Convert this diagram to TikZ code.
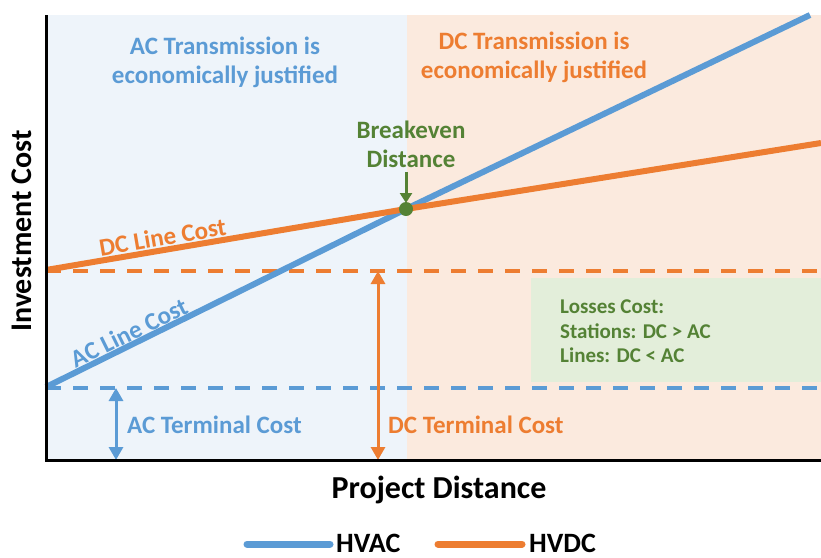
\documentclass[tikz,border=0pt]{standalone}
\usepackage{fontspec}
\setmainfont{Carlito}
\usetikzlibrary{arrows.meta}
\definecolor{acblue}{HTML}{5B9BD5}
\definecolor{dcorange}{HTML}{ED7D31}
\definecolor{bgreen}{HTML}{548235}
\definecolor{bgblue}{HTML}{EEF4FA}
\definecolor{bgorange}{HTML}{FBEADE}
\definecolor{bggreen}{HTML}{E3EEDA}
\tikzset{
  mainline/.style={line width=6pt},
  dashline/.style={line width=4pt, dash pattern=on 15pt off 12pt},
  dimarrow/.style={line width=3pt, {Triangle[width=14pt,length=13pt]}-{Triangle[width=14pt,length=13pt]}},
  lbl/.style={font=\bfseries\fontsize{25}{29}\selectfont, inner sep=0pt},
  ttl/.style={font=\bfseries\fontsize{25}{29}\selectfont, align=center, inner sep=0pt},
  axlbl/.style={font=\bfseries\fontsize{30}{34}\selectfont, text=black, inner sep=0pt},
  leglbl/.style={font=\bfseries\fontsize{28}{32}\selectfont, text=black, inner sep=0pt, anchor=base west},
}
\begin{document}
\begin{tikzpicture}[x=1pt,y=-1pt]
\useasboundingbox (0,0) rectangle (821,557);
% backgrounds
\fill[bgblue] (46,15) rectangle (407,460);
\fill[bgorange] (407,15) rectangle (821,460);
\fill[bggreen] (531,278) rectangle (821,382);
% coordinates
\coordinate (acstart) at (46,387);
\coordinate (dcstart) at (46,270);
\coordinate (be) at (406,209);
\coordinate (acend) at (810,15);
\coordinate (dcend) at (821,143);
\coordinate (dcdashL) at (46,271);
\coordinate (dcdashR) at (821,271);
\coordinate (acdashL) at (46,388);
\coordinate (acdashR) at (821,388);
% dashed terminal levels
\draw[dashline, dcorange] (dcdashL) -- (dcdashR);
\draw[dashline, acblue] (acdashL) -- (acdashR);
% dimension arrows
\coordinate (acArTop) at (116,388);
\coordinate (acArBot) at (116,460);
\coordinate (dcArTop) at (378,271);
\coordinate (dcArBot) at (378,460);
\draw[dimarrow, acblue] (acArTop) -- (acArBot);
\draw[dimarrow, dcorange] (dcArTop) -- (dcArBot);
% cost lines
\draw[mainline, acblue] (acstart) -- (be) -- (acend);
\draw[mainline, dcorange] (dcstart) -- (be) -- (dcend);
\path (acstart) -- (be) node[pos=0.245, sloped, above=3pt, lbl, text=acblue] (aclc) {AC Line Cost};
\path (dcstart) -- (be) node[pos=0.33, sloped, above=4pt, lbl, text=dcorange] (dclc) {DC Line Cost};
% axes
\coordinate (ytop) at (46,15);
\coordinate (orig) at (46,460);
\coordinate (xend) at (821,460);
\draw[line width=3pt, black] (ytop) -- (orig) -- (xend);
% breakeven
\fill[bgreen] (be) circle (7pt);
\node[ttl, text=bgreen] (bet) at (411,144) {Breakeven\\Distance};
\coordinate (beArTop) at (406,172);
\coordinate (beArTip) at (406,203);
\draw[line width=3pt, bgreen, -{Triangle[width=12pt,length=10pt]}] (beArTop) -- (beArTip);
% titles
\node[ttl, text=acblue] (actitle) at (225,62) {AC Transmission is\\economically justified};
\node[ttl, text=dcorange] (dctitle) at (534,57) {DC Transmission is\\economically justified};
% terminal labels
\node[lbl, text=acblue, anchor=west] (actl) at (127,425) {AC Terminal Cost};
\node[lbl, text=dcorange, anchor=west] (dctl) at (388,425) {DC Terminal Cost};
% losses box text
\node[font=\bfseries\fontsize{21}{24.5}\selectfont, text=bgreen, anchor=north west, align=left, inner sep=0pt] (loss) at (560,300) {Losses Cost:\\Stations: DC > AC\\Lines: DC < AC};
% axis labels
\node[axlbl, rotate=90] (ylab) at (22,231) {Investment Cost};
\node[axlbl, font=\bfseries\fontsize{32}{36}\selectfont, anchor=base] (xlab) at (439,498) {Project Distance};
% legend
\coordinate (lgA1) at (247,544);
\coordinate (lgA2) at (330,544);
\coordinate (lgD1) at (438,544);
\coordinate (lgD2) at (522,544);
\draw[line width=7pt, line cap=round, acblue] (lgA1) -- (lgA2);
\draw[line width=7pt, line cap=round, dcorange] (lgD1) -- (lgD2);
\node[leglbl] (hvac) at (336,552) {HVAC};
\node[leglbl] (hvdc) at (529,552) {HVDC};
\end{tikzpicture}
\end{document}
